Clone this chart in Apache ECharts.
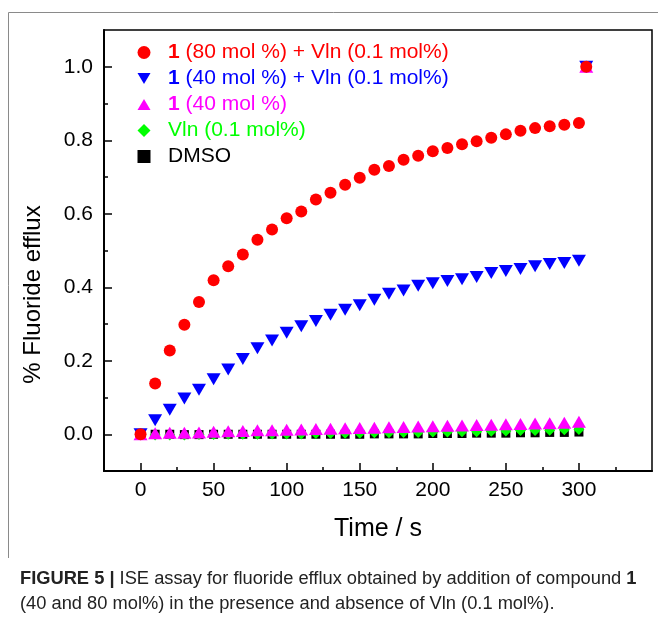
<!DOCTYPE html>
<html>
<head>
<meta charset="utf-8">
<script src="https://cdn.jsdelivr.net/npm/echarts@6/dist/echarts.min.js"></script>
<style>
  html, body { margin: 0; padding: 0; background: #fff; }
  #chart { width: 658px; height: 623px; }
</style>
</head>
<body>
<div id="chart"></div>
<script>
// time points (s)
var times = [0, 10, 20, 30, 40, 50, 60, 70, 80, 90, 100, 110, 120, 130, 140, 150,
  160, 170, 180, 190, 200, 210, 220, 230, 240, 250, 260, 270, 280, 290, 300];
// final calibration point (lysis)
var endTime = 305;
var endValue = 1.0;

var red80Vln = [0, 0.138, 0.228, 0.298, 0.360, 0.419, 0.457, 0.489, 0.529, 0.557, 0.588,
  0.606, 0.639, 0.657, 0.679, 0.698, 0.720, 0.730, 0.747, 0.758, 0.770, 0.779,
  0.789, 0.797, 0.807, 0.816, 0.826, 0.833, 0.838, 0.842, 0.847];
var blue40Vln = [0, 0.038, 0.067, 0.097, 0.121, 0.150, 0.176, 0.205, 0.234, 0.255, 0.276,
  0.294, 0.308, 0.325, 0.339, 0.351, 0.366, 0.382, 0.391, 0.404, 0.411, 0.417,
  0.422, 0.428, 0.439, 0.444, 0.450, 0.457, 0.463, 0.466, 0.472];
var mag40 = [0, 0.003, 0.004, 0.004, 0.005, 0.007, 0.008, 0.009, 0.011, 0.011, 0.012,
  0.013, 0.014, 0.015, 0.016, 0.017, 0.018, 0.019, 0.020, 0.021, 0.022, 0.023,
  0.024, 0.025, 0.026, 0.027, 0.028, 0.029, 0.030, 0.031, 0.034];
var greenVln = [0, -0.002, -0.002, -0.002, -0.001, -0.001, 0, 0, 0, 0.001, 0.001,
  0.001, 0.002, 0.002, 0.003, 0.003, 0.004, 0.004, 0.005, 0.005, 0.006, 0.006,
  0.007, 0.007, 0.008, 0.009, 0.010, 0.010, 0.011, 0.012, 0.013];
var blackDmso = [0, 0, 0, -0.001, -0.001, 0, 0, 0, 0, 0, 0,
  0, 0, 0, 0, 0, 0.001, 0.001, 0.001, 0.001, 0.002, 0.002,
  0.002, 0.003, 0.003, 0.003, 0.004, 0.004, 0.005, 0.005, 0.006];

var xLabels = [0, 50, 100, 150, 200, 250, 300];
var xMinor = [25, 75, 125, 175, 225, 275, 325];
var yLabels = [0, 0.2, 0.4, 0.6, 0.8, 1.0];
var yMinor = [0.1, 0.3, 0.5, 0.7, 0.9];

var names = [
  '1 (80 mol %) + Vln (0.1 mol%)',
  '1 (40 mol %) + Vln (0.1 mol%)',
  '1 (40 mol %)',
  'Vln (0.1 mol%)',
  'DMSO'
];
var colors = ['#ff0000', '#0000ff', '#ff00ff', '#00ff00', '#000000'];

var FONT = '"Liberation Sans", Arial, sans-serif';
var triDown = 'path://M0,0 L12,0 L6,10 Z';
var triUp = 'path://M6,0 L12,10 L0,10 Z';

function pairs(vals) {
  var out = times.map(function (t, i) { return [t, vals[i]]; });
  out.push([endTime, endValue]);
  return out;
}

var chart = echarts.init(document.getElementById('chart'));

chart.setOption({
  animation: false,
  grid: {
    left: 104, right: 6, top: 30, bottom: 152,
    show: true, borderColor: '#000', borderWidth: 1.5,
    outerBoundsMode: 'none'
  },
  legend: {
    orient: 'vertical',
    left: 132.5,
    top: 37,
    itemWidth: 13,
    itemHeight: 13,
    itemGap: 5,
    selectedMode: false,
    textStyle: {
      fontFamily: FONT, fontSize: 21, lineHeight: 21, padding: [0, 0, 0, 12.5],
      rich: { b: { fontWeight: 'bold', fontFamily: FONT, fontSize: 21, lineHeight: 21 } }
    },
    formatter: function (name) {
      return name.replace(/^1 /, '{b|1} ');
    },
    data: names.map(function (n, i) {
      return { name: n, textStyle: { color: colors[i] } };
    })
  },
  xAxis: [{
    type: 'value', min: -25, max: 350,
    position: 'bottom',
    name: 'Time / s', nameLocation: 'middle', nameGap: 46,
    nameTextStyle: { fontFamily: FONT, fontSize: 25, color: '#000' },
    axisLine: { onZero: false, lineStyle: { color: '#000', width: 2 } },
    axisTick: { inside: true, length: 8, customValues: xLabels, lineStyle: { color: '#000', width: 1.5 } },
    axisLabel: { customValues: xLabels, fontFamily: FONT, fontSize: 21, color: '#000', margin: 9 },
    splitLine: { show: false }
  }, {
    type: 'value', min: -25, max: 350,
    position: 'bottom',
    axisLine: { show: false, onZero: false },
    axisTick: { inside: true, length: 4, customValues: xMinor, lineStyle: { color: '#000', width: 1.5 } },
    axisLabel: { show: false },
    splitLine: { show: false }
  }],
  yAxis: [{
    type: 'value', min: -0.1, max: 1.1,
    position: 'left',
    name: '% Fluoride efflux', nameLocation: 'middle', nameGap: 59,
    nameTextStyle: { fontFamily: FONT, fontSize: 24, color: '#000', padding: [0, 88, 0, 0] },
    axisLine: { onZero: false, lineStyle: { color: '#000', width: 2 } },
    axisTick: { inside: true, length: 8, customValues: yLabels, lineStyle: { color: '#000', width: 1.5 } },
    axisLabel: {
      customValues: yLabels, fontFamily: FONT, fontSize: 21, color: '#000', margin: 11,
      formatter: function (v) { return v.toFixed(1); }
    },
    splitLine: { show: false }
  }, {
    type: 'value', min: -0.1, max: 1.1,
    position: 'left',
    axisLine: { show: false, onZero: false },
    axisTick: { inside: true, length: 4, customValues: yMinor, lineStyle: { color: '#000', width: 1.5 } },
    axisLabel: { show: false },
    splitLine: { show: false }
  }],
  series: [
    { type: 'scatter', name: names[4], data: pairs(blackDmso), symbol: 'rect', symbolSize: 9,
      itemStyle: { color: colors[4], opacity: 1 }, z: 2 },
    { type: 'scatter', name: names[3], data: pairs(greenVln), symbol: 'diamond', symbolSize: 11,
      itemStyle: { color: colors[3], opacity: 1 }, z: 3 },
    { type: 'scatter', name: names[2], data: pairs(mag40), symbol: triUp, symbolSize: [14, 12],
      itemStyle: { color: colors[2], opacity: 1 }, z: 4 },
    { type: 'scatter', name: names[1], data: pairs(blue40Vln), symbol: triDown, symbolSize: [14, 12],
      itemStyle: { color: colors[1], opacity: 1 }, z: 5 },
    { type: 'scatter', name: names[0], data: pairs(red80Vln), symbol: 'circle', symbolSize: 12,
      itemStyle: { color: colors[0], opacity: 1 }, z: 6 }
  ],
  graphic: [
    { type: 'polyline', shape: { points: [[8.5, 558], [8.5, 12.5], [658, 12.5]] },
      style: { stroke: '#8a8a8a', lineWidth: 1, fill: null }, silent: true },
    { type: 'text', left: 20, top: 570,
      style: {
        text: '{b|FIGURE 5 |} ISE assay for fluoride efflux obtained by addition of compound {b|1}',
        fontFamily: FONT, fontSize: 18.3, fill: '#222',
        rich: { b: { fontWeight: 'bold', fontFamily: FONT, fontSize: 18.3, fill: '#222' } }
      } },
    { type: 'text', left: 20, top: 595,
      style: {
        text: '(40 and 80 mol%) in the presence and absence of Vln (0.1 mol%).',
        fontFamily: FONT, fontSize: 18.3, fill: '#222'
      } }
  ]
});
</script>
</body>
</html>
